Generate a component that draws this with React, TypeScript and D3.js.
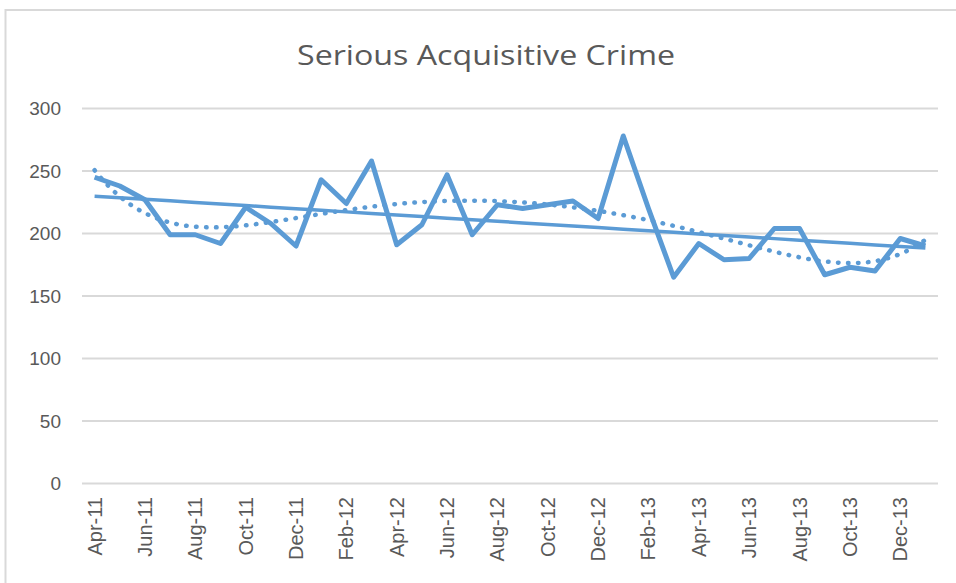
import React from "react";
import * as d3 from "d3";

const months: string[] = [
  "Apr-11","May-11","Jun-11","Jul-11","Aug-11","Sep-11","Oct-11","Nov-11","Dec-11",
  "Jan-12","Feb-12","Mar-12","Apr-12","May-12","Jun-12","Jul-12","Aug-12","Sep-12","Oct-12","Nov-12","Dec-12",
  "Jan-13","Feb-13","Mar-13","Apr-13","May-13","Jun-13","Jul-13","Aug-13","Sep-13","Oct-13","Nov-13","Dec-13",
  "Jan-14",
];
const values: number[] = [
  245, 238, 227, 199, 199, 192, 221, 208, 190,
  243, 224, 258, 191, 207, 247, 199, 223, 220, 223, 226, 212,
  278, 220, 165, 192, 179, 180, 204, 204, 167, 173, 170, 196,
  190,
];
const yTicks: number[] = [0, 50, 100, 150, 200, 250, 300];
const tickLabels: string[] = months.filter((_, i) => i % 2 === 0);
const title = "Serious Acquisitive Crime";
const POLY_ORDER = 6;

const W = 956, H = 583;
const color = "#5B9BD5";
const textColor = "#595959";
const gridColor = "#D9D9D9";

function polyFit(xs: number[], ys: number[], order: number): (x: number) => number {
  const n = order + 1;
  const A: number[][] = Array.from({ length: n }, () => new Array(n + 1).fill(0));
  for (let k = 0; k < xs.length; k++) {
    const pw: number[] = [];
    for (let i = 0; i < 2 * n; i++) pw.push(Math.pow(xs[k], i));
    for (let i = 0; i < n; i++) {
      for (let j = 0; j < n; j++) A[i][j] += pw[i + j];
      A[i][n] += ys[k] * pw[i];
    }
  }
  for (let c = 0; c < n; c++) {
    let p = c;
    for (let r = c + 1; r < n; r++) if (Math.abs(A[r][c]) > Math.abs(A[p][c])) p = r;
    [A[c], A[p]] = [A[p], A[c]];
    for (let r = 0; r < n; r++) {
      if (r === c) continue;
      const f = A[r][c] / A[c][c];
      for (let j = c; j <= n; j++) A[r][j] -= f * A[c][j];
    }
  }
  const coef = A.map((row, i) => row[n] / row[i]);
  return (x: number) => coef.reduce((s, c, i) => s + c * Math.pow(x, i), 0);
}

export default function App() {
  const x = d3.scalePoint<string>().domain(months).range([82, 938]).padding(0.5);
  const y = d3.scaleLinear().domain([0, 300]).range([483.5, 108.5]);

  const idx = months.map((_, i) => i);
  const norm = (i: number) => (2 * i) / (months.length - 1) - 1;
  const lin = polyFit(idx.map(norm), values, 1);
  const poly = polyFit(idx.map(norm), values, POLY_ORDER);

  const line = d3
    .line<number>()
    .x((_, i) => x(months[i]) as number)
    .y((d) => y(d));

  const linVals = idx.map((i) => lin(norm(i)));
  const smooth = d3
    .line<number>()
    .x((d) => {
      const i = d;
      const lo = Math.floor(i), hi = Math.min(months.length - 1, lo + 1);
      const x0 = x(months[lo]) as number, x1 = x(months[hi]) as number;
      return x0 + (x1 - x0) * (i - lo);
    })
    .y((d) => y(poly(norm(d))));
  const fine = d3.range(0, months.length - 1 + 1e-9, 0.1);

  return (
    <svg width={W} height={H} style={{ position: "absolute", left: 0, top: 0 }}>
      <rect x={0} y={0} width={W} height={H} fill="#fff" />
      <rect x={5.5} y={10} width={1000} height={600} fill="#fff" stroke={gridColor} strokeWidth={2} />
      <text
        x={486}
        y={65}
        textAnchor="middle"
        fontFamily="'Open Sans', sans-serif"
        fontSize={28}
        fill={textColor}
        textLength={378}
        lengthAdjust="spacingAndGlyphs"
      >
        {title}
      </text>
      {yTicks.map((t) => (
        <g key={t}>
          <line x1={82} x2={938} y1={y(t)} y2={y(t)} stroke={gridColor} strokeWidth={2} />
          <text
            x={61}
            y={y(t)}
            dy="0.35em"
            textAnchor="end"
            fontFamily="'Liberation Sans', Arial, sans-serif"
            fontSize={19}
            fill={textColor}
          >
            {t}
          </text>
        </g>
      ))}
      {tickLabels.map((m) => (
        <text
          key={m}
          transform={`translate(${x(m)},497) rotate(-90)`}
          dy="0.35em"
          textAnchor="end"
          fontFamily="'Liberation Sans', Arial, sans-serif"
          fontSize={20}
          fill={textColor}
        >
          {m}
        </text>
      ))}
      <path d={line(values) || ""} fill="none" stroke={color} strokeWidth={5} strokeLinejoin="round" />
      <path d={line(linVals) || ""} fill="none" stroke={color} strokeWidth={3.5} />
      <path
        d={smooth(fine) || ""}
        fill="none"
        stroke={color}
        strokeWidth={4.5}
        strokeDasharray="0.5 9.5"
        strokeLinecap="round"
      />
    </svg>
  );
}
